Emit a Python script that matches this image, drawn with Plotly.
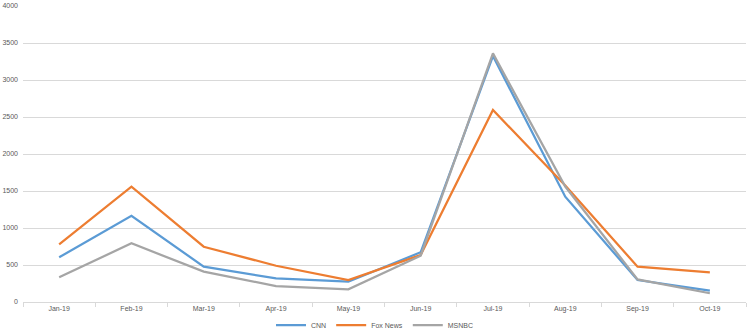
import plotly.graph_objects as go

months = ["Jan-19", "Feb-19", "Mar-19", "Apr-19", "May-19", "Jun-19",
          "Jul-19", "Aug-19", "Sep-19", "Oct-19"]
cnn = [604, 1166, 477, 320, 274, 672, 3324, 1423, 297, 153]
fox = [780, 1558, 747, 490, 297, 635, 2595, 1575, 477, 401]
msnbc = [334, 793, 410, 216, 171, 625, 3360, 1560, 305, 118]

series = [("CNN", cnn, "#5B9BD5"), ("Fox News", fox, "#ED7D31"), ("MSNBC", msnbc, "#A5A5A5")]

fig = go.Figure()
for name, vals, col in series:
    fig.add_trace(go.Scatter(x=months, y=vals, name=name, mode="lines",
                             line=dict(color=col, width=2.25)))

fig.update_layout(
    width=750, height=333,
    margin=dict(l=23, r=4, t=6, b=31, autoexpand=False),
    paper_bgcolor="white", plot_bgcolor="white",
    font=dict(family="Liberation Sans, Arial, sans-serif", size=7, color="#595959"),
    showlegend=True,
    legend=dict(orientation="h", x=0.5, xanchor="center", xref="container",
                y=0.024, yanchor="middle", yref="container",
                bgcolor="rgba(0,0,0,0)",
                font=dict(size=7, color="#595959"), itemwidth=30, tracegroupgap=0),
)
fig.update_xaxes(type="category", range=[-0.5, 9.5], showgrid=False,
                 showline=True, linecolor="#d9d9d9", linewidth=1,
                 ticks="outside", tickson="boundaries", ticklen=4, tickcolor="#d9d9d9",
                 fixedrange=True)
fig.update_yaxes(range=[0, 4000], dtick=500, showgrid=True, gridcolor="#d9d9d9",
                 gridwidth=1, zeroline=False, showline=False, ticks="",
                 ticklabelstandoff=4, fixedrange=True)

fig.write_html("out.html")
